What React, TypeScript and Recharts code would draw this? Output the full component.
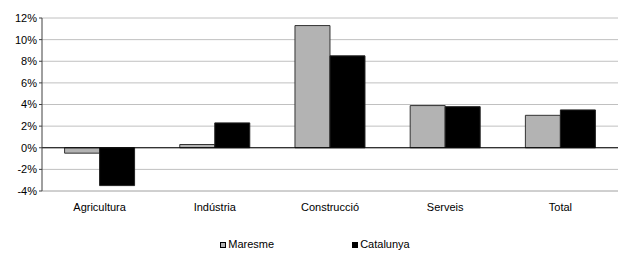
import { Bar, BarChart, CartesianGrid, Legend, ReferenceLine, XAxis, YAxis } from 'recharts'

const sectors = ['Agricultura', 'Indústria', 'Construcció', 'Serveis', 'Total']
const maresme = [-0.5, 0.3, 11.3, 3.9, 3.0]
const catalunya = [-3.5, 2.3, 8.5, 3.8, 3.5]
const yTicks = [-4, -2, 0, 2, 4, 6, 8, 10, 12]

const data = sectors.map((name, i) => ({
  name,
  Maresme: maresme[i],
  Catalunya: catalunya[i],
}))

const font = '"Liberation Sans", Arial, sans-serif'

function LegendBox() {
  const items = [
    { label: 'Maresme', fill: '#B3B3B3' },
    { label: 'Catalunya', fill: '#000' },
  ]
  return (
    <div style={{ display: 'flex', justifyContent: 'center', gap: 78, fontFamily: font, fontSize: 11, color: '#000', paddingLeft: 12, paddingTop: 17, lineHeight: '13px' }}>
      {items.map((it) => (
        <div key={it.label} style={{ display: 'flex', alignItems: 'center' }}>
          <span style={{ display: 'inline-block', boxSizing: 'border-box', width: 6, height: 6, background: it.fill, border: '1px solid #000', marginRight: 2 }} />
          {it.label}
        </div>
      ))}
    </div>
  )
}

export default function App() {
  return (
    <div style={{ position: 'absolute', left: 0, top: 0, background: '#fff' }}>
      <BarChart
        width={630}
        height={253}
        data={data}
        margin={{ top: 18, right: 12, bottom: 0, left: 0 }}
        barCategoryGap='19.6%'
        barGap={0}
      >
        <CartesianGrid vertical={false} stroke='#C0C0C0' />
        <XAxis
          dataKey='name'
          tickLine={false}
          axisLine={{ stroke: '#C0C0C0' }}
          tick={{ fill: '#000', fontSize: 11, fontFamily: font }}
          height={30}
          tickMargin={6}
        />
        <YAxis
          width={42}
          domain={[-4, 12]}
          ticks={yTicks}
          interval={0}
          tickFormatter={(v) => `${v}%`}
          stroke='#404040'
          tickSize={3}
          tick={{ fill: '#000', fontSize: 11, fontFamily: font }}
        />
        <ReferenceLine y={0} stroke='#000' />
        <Bar dataKey='Maresme' fill='#B3B3B3' stroke='#333' strokeWidth={1} isAnimationActive={false} />
        <Bar dataKey='Catalunya' fill='#000' stroke='#222' strokeWidth={1} isAnimationActive={false} />
        <Legend verticalAlign='bottom' height={32} content={() => <LegendBox />} />
      </BarChart>
    </div>
  )
}
